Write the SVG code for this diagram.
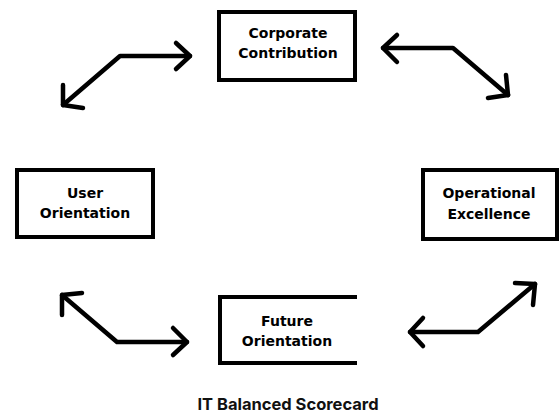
<svg xmlns="http://www.w3.org/2000/svg" width="560" height="416" viewBox="0 0 560 416">
<style>
.box{fill:#fff;stroke:#000;stroke-width:4}
.lbl{font-family:"DejaVu Sans",sans-serif;font-weight:bold;font-size:14px;text-anchor:middle;fill:#000}
.ln{fill:none;stroke:#000;stroke-width:4.5;stroke-linecap:round;stroke-linejoin:round}
.title{font-family:Inter,"Liberation Sans",sans-serif;font-weight:700;font-size:16.5px;text-anchor:middle;fill:#111}
</style>
<rect width="560" height="416" fill="#fff"/>
<g id="corporate">
<rect class="box" x="219" y="12" width="136" height="68"/>
<text class="lbl" x="288" y="38">Corporate</text>
<text class="lbl" x="288" y="58">Contribution</text>
</g>
<g id="user">
<rect class="box" x="17" y="170" width="136" height="67"/>
<text class="lbl" x="85" y="198">User</text>
<text class="lbl" x="85" y="218">Orientation</text>
</g>
<g id="operational">
<rect class="box" x="423" y="170" width="134" height="69"/>
<text class="lbl" x="489" y="198">Operational</text>
<text class="lbl" x="489" y="219">Excellence</text>
</g>
<g id="future">
<path class="box" d="M357 297 H220 V363 H357" style="fill:#fff"/>
<text class="lbl" x="287" y="326">Future</text>
<text class="lbl" x="287" y="346">Orientation</text>
</g>
<g id="connectors">
<path class="ln" d="M190 56 H120 L63 105"/>
<path class="ln" d="M176 43 L190 56 L176 69"/>
<path class="ln" d="M63 85 L63 105 L83 108"/>
<path class="ln" d="M383 48 H453 L508 95"/>
<path class="ln" d="M397 35 L383 48 L397 62"/>
<path class="ln" d="M506 75 L508 95 L488 98"/>
<path class="ln" d="M62 295 L117 342 H187"/>
<path class="ln" d="M62 315 L62 295 L82 293"/>
<path class="ln" d="M173 328 L187 342 L173 355"/>
<path class="ln" d="M410 332 H478 L535 284"/>
<path class="ln" d="M423 318 L410 332 L423 346"/>
<path class="ln" d="M515 283 L535 284 L533 305"/>
</g>
<text class="title" x="288" y="410">IT Balanced Scorecard</text>
</svg>
